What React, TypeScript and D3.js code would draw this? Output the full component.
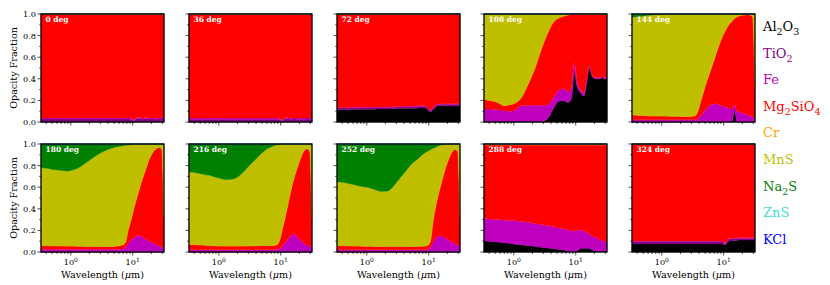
import React from "react";
import * as d3 from "d3";

// wavelength grid (micron)
const wavelengths = [0.33, 0.4, 0.5, 0.6, 0.7, 0.85, 1, 1.3, 1.7, 2.2, 2.8, 3.5, 4.3, 5.2, 6.3, 7.5, 8.5, 9.5, 10.5, 12, 13.5, 15, 16.5, 18.5, 21, 24, 27, 29.5, 32];

const species = ["Al2O3", "TiO2", "Fe", "Mg2SiO4", "Cr", "MnS", "Na2S", "ZnS", "KCl"];
const speciesColors = ["#000000", "#800080", "#bf00bf", "#ff0000", "#ffa500", "#bfbf00", "#008000", "#40e0d0", "#0000ff"];
const phaseAngles = [0, 36, 72, 108, 144, 180, 216, 252, 288, 324];
const yTicks = [0, 0.2, 0.4, 0.6, 0.8, 1.0];
const yMinor = [0.1, 0.3, 0.5, 0.7, 0.9];

// opacity fractions per phase, per species (remaining species fills to 1)
const deg0_TiO2 = [0.027, 0.027, 0.027, 0.027, 0.027, 0.027, 0.027, 0.027, 0.027, 0.027, 0.027, 0.027, 0.027, 0.027, 0.027, 0.027, 0.027, 0.024, 0.012, 0.032, 0.03, 0.027, 0.029, 0.027, 0.027, 0.026, 0.028, 0.027, 0.027];
const deg0_Fe = [0.01, 0.01, 0.01, 0.01, 0.01, 0.01, 0.01, 0.01, 0.01, 0.01, 0.01, 0.01, 0.01, 0.01, 0.01, 0.01, 0.01, 0.01, 0.01, 0.01, 0.01, 0.01, 0.01, 0.01, 0.01, 0.01, 0.01, 0.01, 0.01];

const deg36_TiO2 = [0.026, 0.026, 0.026, 0.026, 0.026, 0.026, 0.026, 0.026, 0.026, 0.026, 0.026, 0.026, 0.026, 0.026, 0.026, 0.026, 0.026, 0.022, 0.01, 0.03, 0.028, 0.026, 0.028, 0.026, 0.025, 0.026, 0.027, 0.026, 0.026];
const deg36_Fe = [0.01, 0.01, 0.01, 0.01, 0.01, 0.01, 0.01, 0.01, 0.01, 0.01, 0.01, 0.01, 0.01, 0.01, 0.01, 0.01, 0.01, 0.01, 0.01, 0.01, 0.01, 0.01, 0.01, 0.01, 0.01, 0.01, 0.01, 0.01, 0.01];

const deg72_Al2O3 = [0.115, 0.115, 0.115, 0.116, 0.116, 0.117, 0.118, 0.118, 0.12, 0.12, 0.122, 0.124, 0.125, 0.127, 0.128, 0.13, 0.13, 0.12, 0.09, 0.12, 0.145, 0.15, 0.15, 0.15, 0.148, 0.148, 0.15, 0.15, 0.15];
const deg72_TiO2 = [0.015, 0.015, 0.015, 0.015, 0.015, 0.015, 0.015, 0.015, 0.015, 0.015, 0.015, 0.015, 0.015, 0.015, 0.015, 0.015, 0.015, 0.015, 0.015, 0.015, 0.015, 0.015, 0.015, 0.015, 0.015, 0.015, 0.015, 0.015, 0.015];
const deg72_Fe = [0.005, 0.005, 0.005, 0.005, 0.005, 0.005, 0.005, 0.005, 0.005, 0.005, 0.005, 0.005, 0.005, 0.005, 0.005, 0.005, 0.005, 0.005, 0.005, 0.005, 0.005, 0.005, 0.005, 0.005, 0.005, 0.005, 0.005, 0.005, 0.005];

const deg108_Al2O3 = [0, 0, 0, 0, 0, 0, 0, 0, 0, 0, 0, 0.03, 0.12, 0.19, 0.2, 0.18, 0.22, 0.46, 0.33, 0.27, 0.24, 0.36, 0.5, 0.42, 0.4, 0.4, 0.41, 0.4, 0.4];
const deg108_TiO2 = [0.01, 0.01, 0.01, 0.01, 0.01, 0.01, 0.01, 0.01, 0.01, 0.01, 0.01, 0, 0, 0, 0, 0, 0, 0, 0, 0, 0, 0, 0, 0, 0, 0, 0, 0, 0];
const deg108_Fe = [0.11, 0.11, 0.105, 0.1, 0.095, 0.09, 0.095, 0.14, 0.145, 0.145, 0.145, 0.13, 0.1, 0.1, 0.11, 0.1, 0.1, 0.09, 0.05, 0.03, 0.03, 0.04, 0.02, 0.01, 0.01, 0.01, 0.01, 0.01, 0.01];
const deg108_Mg2SiO4 = [0.09, 0.08, 0.075, 0.06, 0.045, 0.06, 0.065, 0.07, 0.195, 0.345, 0.525, 0.66, 0.7, 0.67, 0.67, 0.71, 0.68, 0.45, 0.62, 0.7, 0.73, 0.6, 0.48, 0.57, 0.59, 0.59, 0.58, 0.59, 0.58];

const deg144_Al2O3 = [0, 0, 0, 0, 0, 0, 0, 0, 0, 0, 0, 0, 0, 0, 0, 0, 0, 0, 0, 0, 0, 0.11, 0, 0, 0, 0, 0, 0, 0];
const deg144_Fe = [0.02, 0.02, 0.02, 0.02, 0.02, 0.02, 0.02, 0.02, 0.02, 0.02, 0.02, 0.02, 0.06, 0.12, 0.16, 0.17, 0.16, 0.15, 0.14, 0.13, 0.12, 0.05, 0.1, 0.09, 0.08, 0.065, 0.055, 0.045, 0.04];
const deg144_Mg2SiO4 = [0.045, 0.043, 0.04, 0.038, 0.036, 0.035, 0.035, 0.034, 0.033, 0.032, 0.032, 0.04, 0.14, 0.24, 0.34, 0.46, 0.56, 0.64, 0.7, 0.77, 0.81, 0.8, 0.875, 0.895, 0.91, 0.93, 0.935, 0.925, 0.26];
const deg144_Na2S = [0.03, 0.025, 0.02, 0.015, 0.01, 0.005, 0.002, 0, 0, 0, 0, 0, 0, 0, 0, 0, 0, 0, 0, 0, 0, 0, 0, 0, 0, 0, 0, 0, 0];

const deg180_Fe = [0.025, 0.025, 0.025, 0.025, 0.025, 0.025, 0.025, 0.025, 0.025, 0.025, 0.025, 0.025, 0.025, 0.025, 0.025, 0.04, 0.08, 0.11, 0.13, 0.155, 0.15, 0.13, 0.115, 0.1, 0.085, 0.07, 0.055, 0.045, 0.04];
const deg180_Mg2SiO4 = [0.035, 0.034, 0.033, 0.032, 0.031, 0.03, 0.03, 0.028, 0.026, 0.025, 0.025, 0.026, 0.027, 0.029, 0.035, 0.04, 0.13, 0.2, 0.28, 0.375, 0.48, 0.58, 0.665, 0.76, 0.835, 0.885, 0.915, 0.905, 0.26];
const deg180_MnS = [0.72, 0.716, 0.707, 0.703, 0.699, 0.695, 0.7, 0.722, 0.769, 0.815, 0.855, 0.884, 0.903, 0.916, 0.92, 0.905, 0.78, 0.685, 0.59, 0.47, 0.37, 0.29, 0.22, 0.14, 0.08, 0.045, 0.03, 0.05, 0.7];

const deg216_Fe = [0.02, 0.02, 0.02, 0.02, 0.02, 0.02, 0.02, 0.02, 0.02, 0.02, 0.02, 0.02, 0.02, 0.02, 0.02, 0.02, 0.02, 0.03, 0.05, 0.09, 0.13, 0.16, 0.17, 0.14, 0.11, 0.08, 0.06, 0.05, 0.045];
const deg216_Mg2SiO4 = [0.05, 0.048, 0.046, 0.043, 0.04, 0.038, 0.036, 0.035, 0.035, 0.035, 0.036, 0.037, 0.038, 0.04, 0.04, 0.04, 0.045, 0.07, 0.15, 0.25, 0.35, 0.44, 0.52, 0.64, 0.76, 0.86, 0.895, 0.88, 0.255];
const deg216_MnS = [0.67, 0.667, 0.659, 0.652, 0.65, 0.637, 0.629, 0.615, 0.62, 0.655, 0.714, 0.773, 0.822, 0.865, 0.9, 0.92, 0.925, 0.895, 0.8, 0.66, 0.52, 0.4, 0.31, 0.22, 0.13, 0.06, 0.045, 0.07, 0.7];

const deg252_Fe = [0.02, 0.02, 0.02, 0.02, 0.02, 0.02, 0.02, 0.02, 0.02, 0.02, 0.02, 0.02, 0.02, 0.02, 0.02, 0.02, 0.02, 0.02, 0.04, 0.1, 0.14, 0.15, 0.145, 0.13, 0.11, 0.09, 0.075, 0.065, 0.06];
const deg252_Mg2SiO4 = [0.04, 0.039, 0.038, 0.036, 0.035, 0.034, 0.033, 0.032, 0.031, 0.03, 0.03, 0.03, 0.03, 0.031, 0.032, 0.033, 0.035, 0.04, 0.05, 0.22, 0.33, 0.43, 0.525, 0.64, 0.75, 0.84, 0.875, 0.865, 0.24];
const deg252_MnS = [0.59, 0.586, 0.577, 0.569, 0.56, 0.551, 0.547, 0.528, 0.509, 0.515, 0.57, 0.64, 0.7, 0.759, 0.798, 0.837, 0.86, 0.87, 0.855, 0.64, 0.505, 0.405, 0.32, 0.225, 0.14, 0.07, 0.05, 0.07, 0.7];

const deg288_Al2O3 = [0.105, 0.1, 0.095, 0.09, 0.085, 0.08, 0.075, 0.068, 0.06, 0.053, 0.045, 0.038, 0.032, 0.026, 0.02, 0.008, 0.005, 0.005, 0.01, 0.035, 0.035, 0.035, 0.035, 0.02, 0.008, 0.008, 0.008, 0.008, 0.008];
const deg288_Fe = [0.205, 0.205, 0.205, 0.208, 0.21, 0.212, 0.215, 0.217, 0.215, 0.212, 0.21, 0.207, 0.203, 0.199, 0.195, 0.197, 0.193, 0.187, 0.19, 0.17, 0.16, 0.145, 0.13, 0.13, 0.127, 0.112, 0.097, 0.087, 0.082];
const deg288_MnS = [0.008, 0.008, 0.008, 0.008, 0.008, 0.008, 0.008, 0.008, 0.008, 0.008, 0.008, 0.008, 0.008, 0.008, 0.008, 0.008, 0.008, 0.008, 0.008, 0.008, 0.008, 0.008, 0.008, 0.008, 0.008, 0.008, 0.008, 0.008, 0.008];

const deg324_Al2O3 = [0.075, 0.075, 0.075, 0.075, 0.075, 0.075, 0.075, 0.075, 0.075, 0.075, 0.075, 0.075, 0.075, 0.075, 0.075, 0.075, 0.075, 0.075, 0.065, 0.1, 0.105, 0.105, 0.108, 0.11, 0.11, 0.11, 0.11, 0.11, 0.11];
const deg324_TiO2 = [0.02, 0.02, 0.02, 0.02, 0.02, 0.02, 0.02, 0.02, 0.02, 0.02, 0.02, 0.02, 0.02, 0.02, 0.02, 0.02, 0.02, 0.02, 0.012, 0.018, 0.017, 0.017, 0.016, 0.016, 0.015, 0.015, 0.016, 0.015, 0.015];
const deg324_Fe = [0.006, 0.006, 0.006, 0.006, 0.006, 0.006, 0.006, 0.006, 0.006, 0.006, 0.006, 0.006, 0.006, 0.006, 0.006, 0.006, 0.006, 0.006, 0.006, 0.006, 0.006, 0.006, 0.006, 0.006, 0.006, 0.006, 0.006, 0.006, 0.006];

const panelData: { fill: string; layers: Record<string, number[]> }[] = [
  { fill: "Mg2SiO4", layers: { TiO2: deg0_TiO2, Fe: deg0_Fe } },
  { fill: "Mg2SiO4", layers: { TiO2: deg36_TiO2, Fe: deg36_Fe } },
  { fill: "Mg2SiO4", layers: { Al2O3: deg72_Al2O3, TiO2: deg72_TiO2, Fe: deg72_Fe } },
  { fill: "MnS", layers: { Al2O3: deg108_Al2O3, TiO2: deg108_TiO2, Fe: deg108_Fe, Mg2SiO4: deg108_Mg2SiO4 } },
  { fill: "MnS", layers: { Al2O3: deg144_Al2O3, Fe: deg144_Fe, Mg2SiO4: deg144_Mg2SiO4, Na2S: deg144_Na2S } },
  { fill: "Na2S", layers: { Fe: deg180_Fe, Mg2SiO4: deg180_Mg2SiO4, MnS: deg180_MnS } },
  { fill: "Na2S", layers: { Fe: deg216_Fe, Mg2SiO4: deg216_Mg2SiO4, MnS: deg216_MnS } },
  { fill: "Na2S", layers: { Fe: deg252_Fe, Mg2SiO4: deg252_Mg2SiO4, MnS: deg252_MnS } },
  { fill: "Mg2SiO4", layers: { Al2O3: deg288_Al2O3, Fe: deg288_Fe, MnS: deg288_MnS } },
  { fill: "Mg2SiO4", layers: { Al2O3: deg324_Al2O3, TiO2: deg324_TiO2, Fe: deg324_Fe } },
];

const W = 830;
const H = 285;
const PW = 123;
const PH = 108;
const colX = [41, 189, 337, 484, 632];
const rowY = [14, 144];
const FONT = "DejaVu Serif, Liberation Serif, serif";

const x = d3.scaleLog().domain([0.33, 32]).range([0, PW]);
const y = d3.scaleLinear().domain([0, 1]).range([PH, 0]);

function rowsFor(p: { fill: string; layers: Record<string, number[]> }) {
  return wavelengths.map((w, i) => {
    const r: any = { w };
    let sum = 0;
    species.forEach((s) => {
      const v = p.layers[s] ? p.layers[s][i] : 0;
      r[s] = v;
      sum += v;
    });
    r[p.fill] = Math.max(0, 1 - sum);
    return r;
  });
}

const area = d3
  .area<any>()
  .x((d) => x(d.data.w))
  .y0((d) => y(d[0]))
  .y1((d) => y(d[1]))
  .curve(d3.curveMonotoneX);

function Label({ name, ...rest }: any) {
  const parts = name.split(/(\d)/).filter((s: string) => s !== "");
  let sub = false;
  return (
    <text {...rest}>
      {parts.map((p: string, i: number) => {
        const isDigit = /\d/.test(p);
        const dy = isDigit && !sub ? 4 : !isDigit && sub ? -4 : 0;
        sub = isDigit;
        return (
          <tspan key={i} dy={dy} fontSize={isDigit ? 9.5 : undefined}>
            {p}
          </tspan>
        );
      })}
    </text>
  );
}

function Panel({ idx }: { idx: number }) {
  const col = idx % 5;
  const row = Math.floor(idx / 5);
  const px = colX[col];
  const py = rowY[row];
  const stacked = d3.stack<any>().keys(species)(rowsFor(panelData[idx]));
  const xt = x.ticks();
  return (
    <g transform={`translate(${px},${py})`}>
      {stacked.map((layer, i) => (
        <path key={species[i]} d={area(layer) || ""} fill={speciesColors[i]} stroke={speciesColors[i]} strokeWidth={0.3} />
      ))}
      <rect x={0} y={0} width={PW} height={PH} fill="none" stroke="#000" strokeWidth={1.3} />
      {xt.map((t) => {
        const major = t === 1 || t === 10;
        return <line key={"x" + t} x1={x(t)} x2={x(t)} y1={PH} y2={PH + (major ? 3.5 : 2)} stroke="#000" strokeWidth={0.7} />;
      })}
      {yTicks.map((t) => (
        <line key={"y" + t} x1={-3.5} x2={0} y1={y(t)} y2={y(t)} stroke="#000" strokeWidth={0.7} />
      ))}
      {yMinor.map((t) => (
        <line key={"ym" + t} x1={-2} x2={0} y1={y(t)} y2={y(t)} stroke="#000" strokeWidth={0.6} />
      ))}
      {col === 0 &&
        yTicks.map((t) => (
          <text key={"yl" + t} x={-5} y={y(t) + 3} textAnchor="end" fontSize={8.2} fontFamily={FONT}>
            {t.toFixed(1)}
          </text>
        ))}
      {row === 1 &&
        [1, 10].map((t, i) => (
          <text key={"xl" + t} x={x(t)} y={PH + 13} textAnchor="middle" fontSize={8.2} fontFamily={FONT}>
            10
            <tspan dy={-3.5} fontSize={6}>
              {i}
            </tspan>
          </text>
        ))}
      {row === 1 && (
        <text x={PW / 2} y={PH + 26} textAnchor="middle" fontSize={9.6} fontFamily={FONT}>
          Wavelength (<tspan fontStyle="italic">μ</tspan>m)
        </text>
      )}
      {col === 0 && (
        <text transform={`translate(${-24},${PH / 2}) rotate(-90)`} textAnchor="middle" fontSize={9.6} fontFamily={FONT}>
          Opacity Fraction
        </text>
      )}
      <text x={4.5} y={7.5} fill="#fff" fontWeight="bold" fontSize={7.5} fontFamily={FONT}>
        {phaseAngles[idx]} deg
      </text>
    </g>
  );
}

export default function App() {
  return (
    <svg width={W} height={H} style={{ position: "absolute", left: 0, top: 0, background: "#fff" }}>
      {phaseAngles.map((_, i) => (
        <Panel key={i} idx={i} />
      ))}
      {species.map((s, i) => (
        <Label key={s} name={s} x={763} y={31 + i * 26.6} fontSize={13} fontFamily={FONT} fill={speciesColors[i]} />
      ))}
    </svg>
  );
}
